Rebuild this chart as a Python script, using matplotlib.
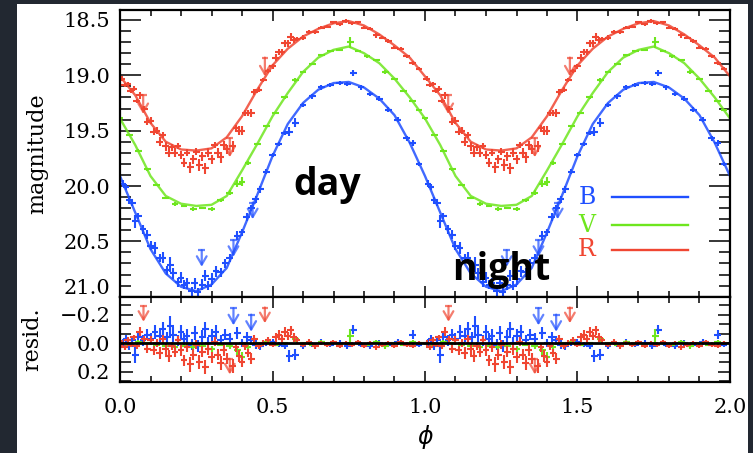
import numpy as np
import matplotlib
matplotlib.use("Agg")
import matplotlib.pyplot as plt
from matplotlib.patches import Rectangle
from matplotlib.transforms import ScaledTranslation
from matplotlib.ticker import MultipleLocator, FixedLocator, FuncFormatter

plt.rcParams['font.family'] = ['DejaVu Serif']

# ---------------- data ----------------
model_phase = [0.00, 0.05, 0.10, 0.15, 0.20, 0.25, 0.30, 0.35, 0.40, 0.45, 0.50,
               0.55, 0.60, 0.65, 0.70, 0.75, 0.80, 0.85, 0.90, 0.95, 1.00]
model_B = [19.91, 20.24, 20.57, 20.79, 20.91, 20.95, 20.89, 20.74, 20.42, 20.08, 19.73,
           19.44, 19.25, 19.13, 19.07, 19.06, 19.11, 19.21, 19.36, 19.61, 19.91]
model_V = [19.39, 19.63, 19.91, 20.09, 20.16, 20.18, 20.17, 20.09, 19.86, 19.62, 19.37,
           19.16, 18.97, 18.84, 18.77, 18.74, 18.80, 18.89, 19.03, 19.20, 19.39]
model_R = [19.01, 19.18, 19.43, 19.60, 19.67, 19.68, 19.66, 19.56, 19.37, 19.13, 18.91,
           18.76, 18.65, 18.58, 18.53, 18.51, 18.55, 18.63, 18.73, 18.84, 19.01]

b_phase = [0.01, 0.02, 0.03, 0.04, 0.05, 0.06, 0.075, 0.09, 0.10, 0.115,
           0.13, 0.14, 0.155, 0.165, 0.175, 0.19, 0.20, 0.21, 0.22, 0.235,
           0.245, 0.255, 0.27, 0.28, 0.29, 0.30, 0.315, 0.33, 0.345, 0.36,
           0.385, 0.40, 0.415, 0.43, 0.445, 0.46, 0.48, 0.50, 0.52, 0.54,
           0.555, 0.575, 0.60, 0.63, 0.66, 0.69, 0.72, 0.745, 0.765, 0.79,
           0.82, 0.85, 0.88, 0.91, 0.94, 0.96, 0.98]
b_mag = [19.98, 20.01, 20.13, 20.15, 20.32, 20.27, 20.39, 20.44, 20.54, 20.56,
         20.65, 20.65, 20.76, 20.71, 20.79, 20.87, 20.83, 20.89, 20.88, 20.95,
         20.88, 20.96, 20.89, 20.81, 20.90, 20.84, 20.77, 20.78, 20.70, 20.65,
         20.45, 20.42, 20.28, 20.20, 20.12, 20.03, 19.87, 19.72, 19.62, 19.52,
         19.51, 19.43, 19.27, 19.19, 19.11, 19.09, 19.07, 19.08, 18.98, 19.11,
         19.17, 19.21, 19.31, 19.40, 19.57, 19.61, 19.80]
b_resid = [0.00, -0.03, 0.02, -0.02, 0.08, -0.04, -0.02, -0.06, -0.03, -0.08,
           -0.05, -0.10, -0.04, -0.12, -0.06, -0.02, -0.08, -0.03, -0.05, 0.01,
           -0.07, 0.02, -0.04, -0.10, 0.00, -0.05, -0.08, -0.02, -0.06, -0.03,
           -0.07, 0.00, -0.04, -0.02, 0.01, 0.02, 0.00, -0.01, 0.01, 0.02,
           0.09, 0.08, 0.02, 0.01, -0.01, 0.01, 0.00, 0.02, -0.095, 0.01,
           0.02, 0.00, 0.01, -0.01, 0.01, -0.06, 0.01]
b_err = [0.03, 0.03, 0.03, 0.03, 0.06, 0.03, 0.04, 0.04, 0.04, 0.05,
         0.04, 0.05, 0.04, 0.07, 0.05, 0.04, 0.05, 0.04, 0.05, 0.04,
         0.05, 0.04, 0.05, 0.05, 0.04, 0.05, 0.05, 0.04, 0.04, 0.04,
         0.04, 0.03, 0.04, 0.03, 0.03, 0.03, 0.02, 0.02, 0.02, 0.02,
         0.04, 0.04, 0.02, 0.02, 0.02, 0.02, 0.02, 0.02, 0.03, 0.02,
         0.02, 0.02, 0.02, 0.02, 0.02, 0.03, 0.02]

v_phase = [0.00, 0.03, 0.06, 0.09, 0.12, 0.15, 0.18, 0.21, 0.24, 0.27,
           0.30, 0.33, 0.36, 0.385, 0.40, 0.42, 0.45, 0.48, 0.51, 0.54,
           0.575, 0.60, 0.63, 0.66, 0.69, 0.72, 0.755, 0.78, 0.81, 0.84,
           0.87, 0.90, 0.93, 0.96, 0.98]
v_mag = [19.39, 19.54, 19.68, 19.85, 19.99, 20.11, 20.16, 20.18, 20.21, 20.20,
         20.21, 20.13, 20.06, 19.98, 19.96, 19.79, 19.62, 19.46, 19.34, 19.20,
         19.04, 18.97, 18.90, 18.82, 18.78, 18.77, 18.70, 18.78, 18.83, 18.86,
         18.97, 19.03, 19.14, 19.23, 19.31]
v_resid = [0.00, 0.01, -0.01, 0.00, 0.01, 0.02, 0.03, 0.02, 0.03, 0.02,
           0.04, 0.01, 0.02, 0.05, 0.10, 0.03, 0.00, -0.01, 0.01, 0.00,
           -0.03, 0.00, 0.01, -0.01, 0.00, 0.01, -0.05, 0.00, 0.01, -0.01,
           0.02, 0.00, 0.01, -0.01, 0.00]
v_err = [0.01, 0.01, 0.01, 0.01, 0.01, 0.01, 0.02, 0.01, 0.02, 0.01,
         0.02, 0.01, 0.02, 0.03, 0.04, 0.02, 0.01, 0.01, 0.01, 0.01,
         0.02, 0.01, 0.01, 0.01, 0.01, 0.01, 0.05, 0.01, 0.01, 0.01,
         0.02, 0.01, 0.01, 0.01, 0.01]

r_phase = [0.005, 0.015, 0.025, 0.035, 0.045, 0.055, 0.065, 0.08, 0.09, 0.10,
           0.11, 0.12, 0.13, 0.14, 0.15, 0.16, 0.17, 0.18, 0.19, 0.20,
           0.21, 0.22, 0.23, 0.24, 0.25, 0.26, 0.27, 0.28, 0.29, 0.30,
           0.31, 0.32, 0.33, 0.34, 0.35, 0.37, 0.38, 0.39, 0.40, 0.41,
           0.42, 0.43, 0.44, 0.455, 0.47, 0.485, 0.50, 0.51, 0.52, 0.53,
           0.54, 0.55, 0.56, 0.57, 0.58, 0.60, 0.62, 0.64, 0.66, 0.68,
           0.70, 0.72, 0.74, 0.76, 0.78, 0.80, 0.82, 0.84, 0.86, 0.88,
           0.90, 0.92, 0.94, 0.96, 0.98]
r_mag = [19.03, 19.09, 19.08, 19.14, 19.12, 19.23, 19.18, 19.30, 19.42, 19.41,
         19.51, 19.50, 19.60, 19.54, 19.64, 19.70, 19.65, 19.70, 19.64, 19.72,
         19.79, 19.70, 19.83, 19.76, 19.69, 19.81, 19.73, 19.84, 19.70, 19.76,
         19.63, 19.70, 19.74, 19.63, 19.67, 19.64, 19.48, 19.50, 19.50, 19.34,
         19.34, 19.34, 19.15, 19.13, 19.04, 18.96, 18.92, 18.84, 18.79, 18.79,
         18.71, 18.71, 18.65, 18.68, 18.67, 18.66, 18.61, 18.61, 18.57, 18.56,
         18.52, 18.54, 18.51, 18.53, 18.52, 18.57, 18.58, 18.64, 18.66, 18.69,
         18.75, 18.76, 18.83, 18.89, 18.94]
r_resid = [0.00, 0.03, -0.02, 0.01, -0.04, 0.02, -0.08, -0.03, 0.04, -0.02,
           0.05, 0.00, 0.07, -0.03, 0.04, 0.09, 0.02, 0.06, -0.02, 0.05,
           0.12, 0.03, 0.15, 0.08, 0.01, 0.13, 0.06, 0.17, 0.04, 0.10,
           -0.01, 0.08, 0.14, 0.05, 0.11, 0.16, 0.03, 0.09, 0.13, 0.02,
           0.07, 0.11, -0.03, 0.02, 0.00, -0.02, 0.01, -0.04, -0.06, -0.03,
           -0.08, -0.05, -0.09, -0.04, -0.02, 0.01, -0.01, 0.02, 0.00, 0.01,
           -0.01, 0.02, 0.00, 0.01, -0.01, 0.02, 0.00, 0.03, 0.01, 0.00,
           0.02, -0.01, 0.01, 0.02, 0.00]
r_err = [0.02, 0.02, 0.02, 0.02, 0.02, 0.02, 0.03, 0.02, 0.03, 0.03,
         0.03, 0.03, 0.04, 0.03, 0.04, 0.04, 0.03, 0.04, 0.03, 0.04,
         0.04, 0.03, 0.05, 0.04, 0.03, 0.05, 0.04, 0.05, 0.04, 0.04,
         0.03, 0.04, 0.05, 0.04, 0.04, 0.05, 0.03, 0.04, 0.04, 0.03,
         0.03, 0.04, 0.03, 0.02, 0.02, 0.02, 0.02, 0.03, 0.03, 0.03,
         0.03, 0.03, 0.03, 0.03, 0.02, 0.02, 0.02, 0.02, 0.015, 0.015,
         0.015, 0.015, 0.015, 0.015, 0.015, 0.015, 0.015, 0.02, 0.015, 0.015,
         0.015, 0.015, 0.015, 0.015, 0.015]
phase_err = 0.011

# upper limits (start of arrow)
b_lim_phase = [0.268, 0.372, 0.435]
b_lim_mag = [20.58, 20.49, 20.15]
r_lim_phase = [0.076, 0.36, 0.475]
r_lim_mag = [19.18, 19.57, 18.84]
b_rlim_phase = [0.372, 0.43]
b_rlim_val = [-0.245, -0.20]
r_rlim_phase = [0.077, 0.475, 0.36]
r_rlim_val = [-0.26, -0.25, 0.11]

bands = ['B', 'V', 'R']
cB, cV, cR = '#1f4fff', '#6ee61e', '#f04632'
cycles = [0, 1]

# ---------------- figure ----------------
W, H = 753, 453
fig = plt.figure(figsize=(W / 100, H / 100), dpi=100, facecolor='#222831')
fig.patches.append(Rectangle((17 / W, 0), (748 - 17) / W, (H - 4) / H,
                             transform=fig.transFigure, facecolor='white',
                             edgecolor='none', zorder=-10))

ax = fig.add_axes([120 / W, 1 - 296.7 / H, 610 / W, 286.7 / H])
axr = fig.add_axes([120 / W, 1 - 381.7 / H, 610 / W, 85 / H], sharex=ax)


def draw_points(a, ph, val, err, col):
    for c in cycles:
        a.errorbar(np.array(ph) + c, val, yerr=err, xerr=phase_err, fmt='none',
                   ecolor=col, elinewidth=1.5, capsize=0, zorder=2)


def draw_limits(a, ph, val, length, col):
    for c in cycles:
        for x, y in zip(ph, val):
            a.errorbar([x + c], [y], xerr=phase_err, fmt='none', ecolor=col,
                       elinewidth=1.6, alpha=0.7, zorder=3)
            a.annotate('', xy=(x + c, y + length), xytext=(x + c, y),
                       arrowprops=dict(arrowstyle='->,head_length=0.6,head_width=0.35',
                                       color=col, lw=1.6, alpha=0.7,
                                       shrinkA=0, shrinkB=0), zorder=3)


mp = np.concatenate([np.array(model_phase), np.array(model_phase[1:]) + 1])
for mod, col in [(model_B, cB), (model_V, cV), (model_R, cR)]:
    ax.plot(mp, np.concatenate([mod, mod[1:]]), color=col, lw=1.7, alpha=0.85, zorder=2)

draw_points(ax, b_phase, b_mag, b_err, cB)
draw_points(ax, v_phase, v_mag, v_err, cV)
draw_points(ax, r_phase, r_mag, r_err, cR)
draw_limits(ax, b_lim_phase, b_lim_mag, 0.15, cB)
draw_limits(ax, r_lim_phase, r_lim_mag, 0.17, cR)

draw_points(axr, b_phase, b_resid, b_err, cB)
draw_points(axr, v_phase, v_resid, v_err, cV)
draw_points(axr, r_phase, r_resid, r_err, cR)
draw_limits(axr, b_rlim_phase, b_rlim_val, 0.12, cB)
draw_limits(axr, r_rlim_phase, r_rlim_val, 0.11, cR)
axr.axhline(0, color='k', lw=2, zorder=4)

# ---------------- axes styling ----------------
ax.set_xlim(0, 2)
ax.set_ylim(21.0, 18.41)
axr.set_ylim(0.271, -0.326)

tick_fs = 15
for a in (ax, axr):
    for s in a.spines.values():
        s.set_linewidth(1.6)
    a.tick_params(which='both', direction='in', top=True, right=True,
                  width=1.1, color='k', labelsize=tick_fs)
    a.xaxis.set_major_locator(MultipleLocator(0.5))
    a.xaxis.set_minor_locator(MultipleLocator(0.1))
    a.tick_params(axis='x', which='major', length=8)
    a.tick_params(axis='x', which='minor', length=4)

ax.tick_params(axis='x', labelbottom=False)
ax.yaxis.set_major_locator(MultipleLocator(0.5))
ax.yaxis.set_minor_locator(MultipleLocator(0.1))
y_bottom_label = 21.0
ax.yaxis.set_major_formatter(FuncFormatter(
    lambda v, p: "" if abs(v - y_bottom_label) < 1e-6 else f"{v:.1f}"))
ax.tick_params(axis='y', which='major', length=15, pad=7)
ax.tick_params(axis='y', which='minor', length=8)
# bottom label of the magnitude axis sits a little above its tick, as in the original
ax.text(-10 / 610, y_bottom_label, f"{y_bottom_label:.1f}", fontsize=tick_fs,
        ha='right', va='center',
        transform=ax.get_yaxis_transform() + ScaledTranslation(0, 8 / 100, fig.dpi_scale_trans))

axr.yaxis.set_major_locator(FixedLocator([-0.2, 0.0, 0.2]))
axr.yaxis.set_minor_locator(MultipleLocator(0.2 / 3))
axr.yaxis.set_major_formatter(FuncFormatter(
    lambda v, p: ("\u2212" if v < -1e-9 else "") + f"{abs(v):.1f}"))
axr.tick_params(axis='y', which='major', length=9, pad=7)
axr.tick_params(axis='y', which='minor', length=8)
axr.xaxis.set_major_formatter(FuncFormatter(lambda v, p: f"{v:.1f}"))
axr.tick_params(axis='x', which='major', pad=12)

ax.set_ylabel('magnitude', fontsize=16, va='center')
ax.yaxis.set_label_coords(-0.136, 0.5)
axr.set_ylabel('resid.', fontsize=16, va='center')
axr.yaxis.set_label_coords(-0.144, 0.5)
fig.text(425 / W, 1 - 437 / H, '\u03d5', fontsize=17, style='italic',
         family='DejaVu Sans', ha='center', va='center')

# legend
leg_y = [0.3477, 0.250, 0.163]
for name, col, y in zip(bands, [cB, cV, cR], leg_y):
    ax.text(0.7656, y, name, color=col, fontsize=17, ha='center', va='center',
            transform=ax.transAxes)
    ax.plot([0.8066, 0.9311], [y, y], color=col, lw=1.7, transform=ax.transAxes)

ax.text(0.567, 20.08, 'day', fontsize=27, fontweight='bold', family='Open Sans',
        ha='left', va='baseline', zorder=6)
ax.text(1.089, 20.85, 'night', fontsize=27, fontweight='bold', family='Open Sans',
        ha='left', va='baseline', zorder=6)

fig.savefig('out.png', dpi=100, facecolor=fig.get_facecolor())
